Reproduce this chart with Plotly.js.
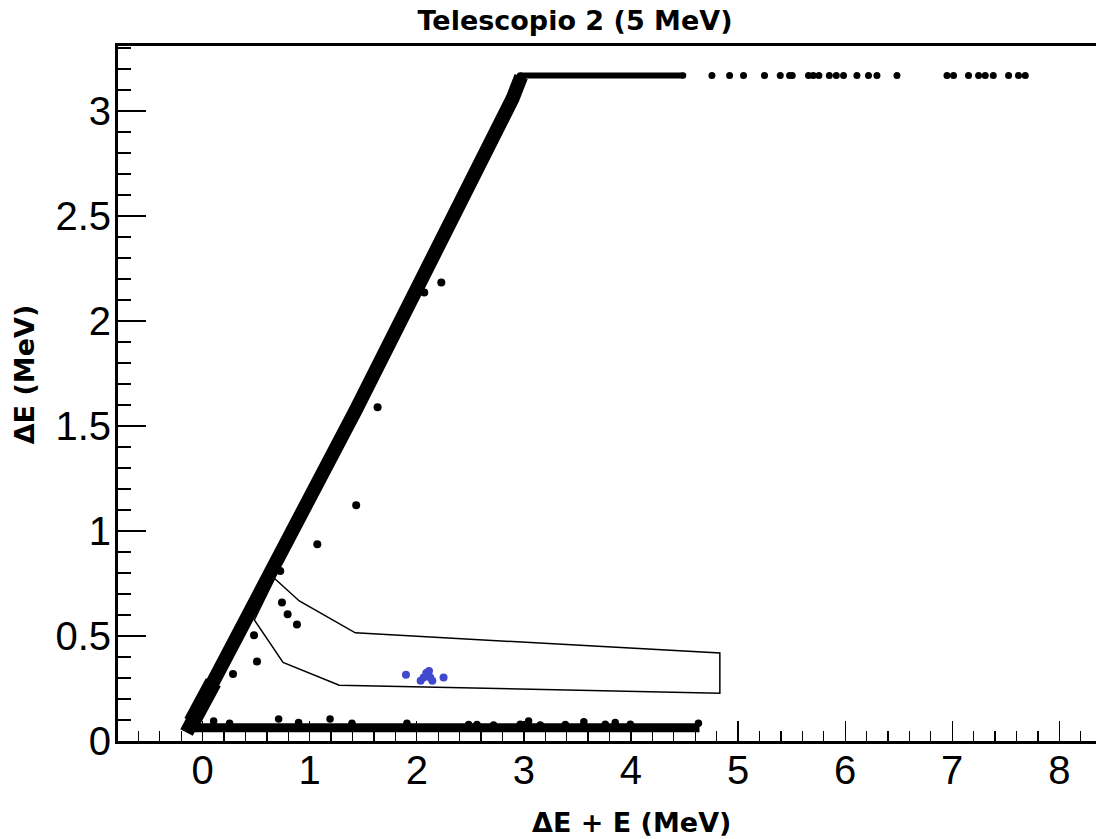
<!DOCTYPE html>
<html>
<head>
<meta charset="utf-8">
<script src="https://cdn.plot.ly/plotly-3.0.1.min.js"></script>
<style>
  html, body { margin: 0; padding: 0; background: #fff; overflow: hidden; }
  #chart { width: 1150px; height: 839px; }
</style>
</head>
<body>
<div id="chart"></div>
<script>
// ΔE vs ΔE+E for telescope 2, 5 MeV run.

// Punch-through ridge (ΔE ≈ ΔE+E), centreline vertices
const ridgeX = [-0.15, 0.10, 0.765, 1.433, 2.895, 2.975];
const ridgeY = [0.04, 0.279, 0.913, 1.579, 3.06, 3.165];
// Wider foot of the ridge close to the origin
const footX = [-0.10, 0.10];
const footY = [0.09, 0.28];

// Low-ΔE floor band
const floorX = [-0.15, 4.64];
const floorY = [0.063, 0.063];
// Events sitting just above the floor band
const floorEvX = [0.103, 0.252, 0.71, 0.896, 1.19, 1.395, 1.908, 2.484, 2.562, 2.717, 2.966, 3.044, 3.153, 3.387, 3.56, 3.76, 3.853, 3.994, 4.63];
const floorEvY = [0.095, 0.084, 0.105, 0.088, 0.105, 0.084, 0.084, 0.078, 0.078, 0.076, 0.08, 0.095, 0.076, 0.078, 0.092, 0.08, 0.088, 0.08, 0.085];

// ΔE saturation level
const satLevel = 3.17;
const satX = [2.965, 4.486];
const satDotsX = [4.756, 4.921, 5.051, 5.247, 5.394, 5.481, 5.506, 5.658, 5.702, 5.755, 5.852, 5.917, 5.985, 6.110, 6.218, 6.297, 6.484, 6.951, 7.012, 7.152, 7.246, 7.308, 7.383, 7.526, 7.619, 7.682];

// Isolated events off the ridge
const looseX = [0.284, 0.480, 0.508, 0.725, 0.741, 0.794, 0.881, 1.071, 1.434, 1.634, 2.07, 2.229];
const looseY = [0.319, 0.504, 0.379, 0.810, 0.660, 0.604, 0.555, 0.937, 1.123, 1.590, 2.136, 2.184];

// Events inside the graphical cut
const inCutX = [1.899, 2.036, 2.064, 2.089, 2.114, 2.126, 2.145, 2.25];
const inCutY = [0.315, 0.287, 0.303, 0.324, 0.333, 0.303, 0.287, 0.303];

// Graphical cut contour (closed)
const cutX = [0.672, 0.903, 1.426, 4.83, 4.83, 1.276, 0.751, 0.483, 0.672];
const cutY = [0.774, 0.667, 0.515, 0.419, 0.228, 0.266, 0.374, 0.577, 0.774];

const black = '#000000';
const blue = '#4149cf';

const traces = [
  { x: cutX, y: cutY, mode: 'lines', line: { color: black, width: 1.5 }, hoverinfo: 'skip' },
  { x: floorX, y: floorY, mode: 'lines', line: { color: black, width: 9 }, hoverinfo: 'skip' },
  { x: floorEvX, y: floorEvY, mode: 'markers', marker: { color: black, size: 7.5 } },
  { x: footX, y: footY, mode: 'lines', line: { color: black, width: 17 }, hoverinfo: 'skip' },
  { x: ridgeX, y: ridgeY, mode: 'lines', line: { color: black, width: 14 }, hoverinfo: 'skip' },
  { x: satX, y: satX.map(() => satLevel), mode: 'lines+markers', line: { color: black, width: 6 }, marker: { color: black, size: 6.5 } },
  { x: satDotsX, y: satDotsX.map(() => satLevel), mode: 'markers', marker: { color: black, size: 7 } },
  { x: looseX, y: looseY, mode: 'markers', marker: { color: black, size: 8 } },
  { x: inCutX, y: inCutY, mode: 'markers', marker: { color: blue, size: 8 } }
];

const tickFont = { family: '"Liberation Sans", Arial, sans-serif', size: 40, color: black };
const titleFont = { family: '"DejaVu Sans", sans-serif', size: 27, color: black, weight: 'bold' };

const layout = {
  width: 1150,
  height: 839,
  margin: { l: 118, r: 5, t: 46, b: 98 },
  paper_bgcolor: '#ffffff',
  plot_bgcolor: '#ffffff',
  showlegend: false,
  title: {
    text: 'Telescopio 2 (5 MeV)',
    font: titleFont,
    x: 0.5, xref: 'container', xanchor: 'center',
    y: 0.975, yref: 'container', yanchor: 'middle'
  },
  xaxis: {
    range: [-0.79, 8.80],
    showgrid: false, zeroline: false,
    showline: true, linecolor: black, linewidth: 3, mirror: true,
    ticks: 'inside', ticklen: 20, tickwidth: 1.3, tickcolor: black,
    dtick: 1, tick0: 0,
    minor: { ticks: 'inside', ticklen: 10, tickwidth: 1.3, tickcolor: black, dtick: 0.2, showgrid: false },
    tickfont: tickFont,
    ticklabelstandoff: -8
  },
  yaxis: {
    range: [0, 3.31],
    showgrid: false, zeroline: false,
    showline: true, linecolor: black, linewidth: 3, mirror: false,
    ticks: 'inside', ticklen: 28, tickwidth: 1.3, tickcolor: black,
    dtick: 0.5, tick0: 0,
    minor: { ticks: 'inside', ticklen: 13, tickwidth: 1.3, tickcolor: black, dtick: 0.1, showgrid: false },
    tickfont: tickFont,
    ticklabelstandoff: -4
  },
  annotations: [
    {
      text: 'ΔE + E (MeV)', showarrow: false,
      xref: 'paper', x: 0.5, xanchor: 'center',
      yref: 'paper', y: -0.117, yanchor: 'middle',
      font: titleFont
    },
    {
      text: 'ΔE (MeV)', showarrow: false, textangle: -90,
      xref: 'paper', x: -0.091, xanchor: 'center',
      yref: 'paper', y: 0.527, yanchor: 'middle',
      font: titleFont
    }
  ]
};

Plotly.newPlot('chart', traces, layout, { staticPlot: true, displayModeBar: false });
</script>
</body>
</html>
